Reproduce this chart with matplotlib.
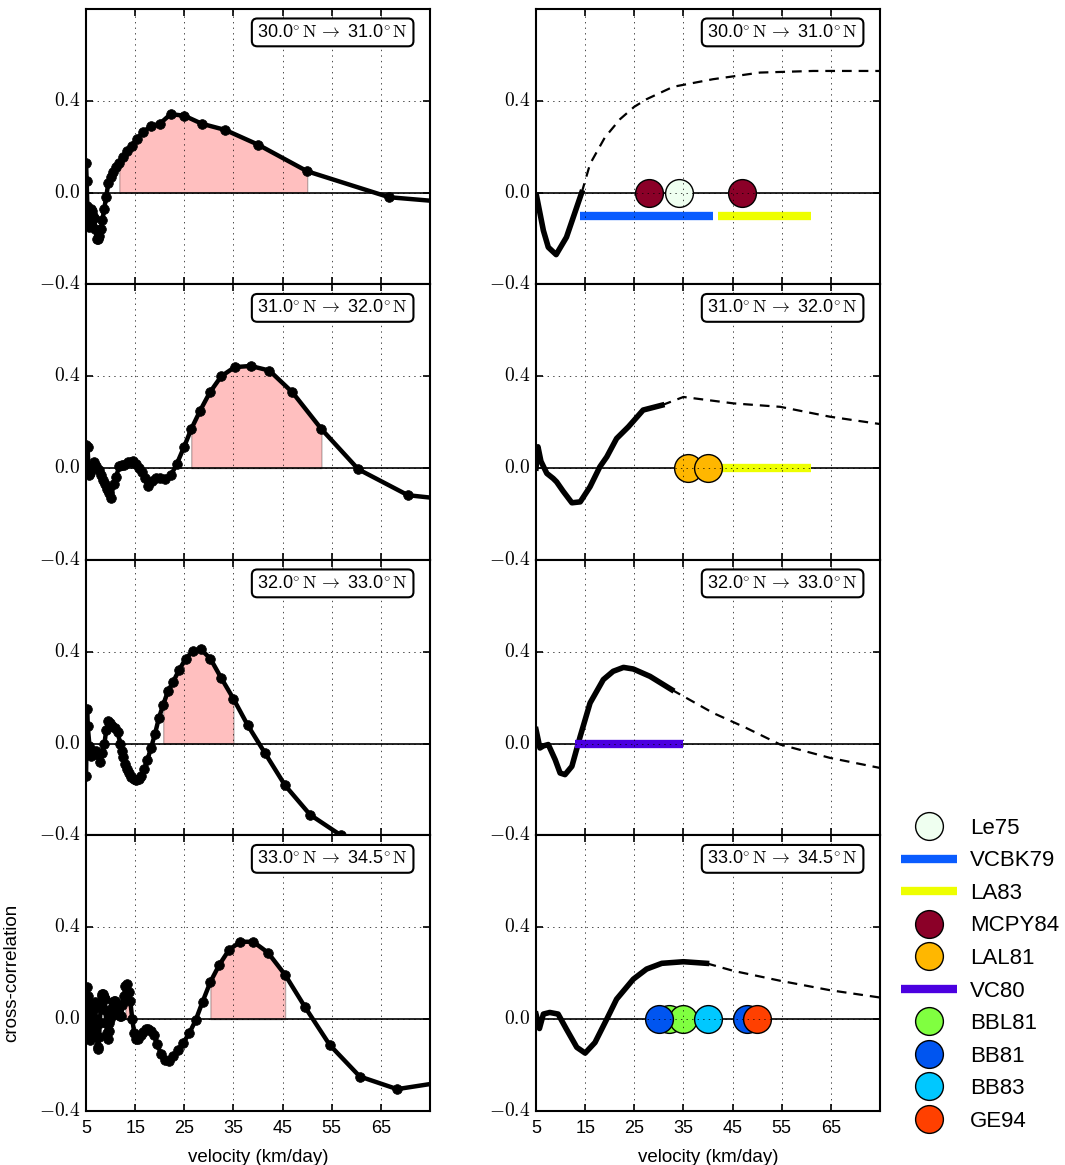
import matplotlib
matplotlib.use('Agg')
import matplotlib.pyplot as plt
import numpy as np
from matplotlib.lines import Line2D

plt.style.use('classic')
plt.rcParams.update({
    'figure.facecolor': 'white',
    'savefig.facecolor': 'white',
    'font.family': 'sans-serif',
    'font.sans-serif': ['Liberation Sans', 'DejaVu Sans'],
    'mathtext.fontset': 'cm',
    'axes.linewidth': 1.5,
    'xtick.major.width': 1.2,
    'ytick.major.width': 1.2,
    'xtick.major.size': 5,
    'ytick.major.size': 5,
    'xtick.major.pad': 6.5,
    'xtick.labelsize': 13,
    'ytick.labelsize': 14,
    'axes.labelsize': 13.5,
})

# ---- left column: cross-correlation vs velocity (dots = lags)
vel_1 = [5.0, 5.13, 5.26, 5.41, 5.56, 5.71, 5.88, 6.06, 6.25, 6.45, 6.67, 6.90, 7.14, 7.41,
         7.69, 8.0, 8.33, 8.70, 9.09, 9.52, 10.0, 10.53, 11.11, 11.76, 12.5, 13.33, 14.29,
         15.38, 16.67, 18.18, 20.0, 22.22, 25.0, 28.57, 33.33, 40.0, 50.0, 66.67, 100.0]
corr_1 = [0.13, 0.05, -0.06, -0.13, -0.15, -0.12, -0.08, -0.07, -0.08, -0.10, -0.11, -0.16,
          -0.20, -0.20, -0.19, -0.16, -0.12, -0.07, -0.02, 0.04, 0.07, 0.09, 0.11, 0.13,
          0.155, 0.18, 0.205, 0.235, 0.265, 0.29, 0.30, 0.342, 0.335, 0.30, 0.273, 0.209,
          0.093, -0.02, -0.08]

vel_2 = [5.0, 5.3, 5.6, 5.9, 6.2, 6.6, 7.05, 7.55, 8.0, 8.5, 8.8, 9.2, 9.6, 10.1, 10.6, 11.1,
         11.75, 12.4, 12.8, 13.6, 14.1, 14.6, 15.1, 15.7, 16.3, 16.9, 17.6, 18.4, 19.2, 20.1,
         21.15, 22.3, 23.5, 24.9, 26.4, 28.2, 30.2, 32.5, 35.25, 38.5, 42.3, 47.0, 52.9, 60.4,
         70.5, 84.6]
corr_2 = [0.10, 0.09, -0.03, -0.02, 0.0, 0.025, 0.01, -0.01, -0.03, -0.05, -0.07, -0.09,
          -0.11, -0.13, -0.07, -0.04, 0.01, 0.015, 0.015, 0.025, 0.027, 0.03, 0.02, 0.0,
          -0.016, -0.045, -0.08, -0.055, -0.045, -0.045, -0.048, -0.03, 0.02, 0.09, 0.17,
          0.25, 0.33, 0.40, 0.44, 0.445, 0.425, 0.33, 0.17, -0.005, -0.118, -0.15]

vel_3 = [5.0, 5.2, 5.35, 5.7, 6.07, 6.5, 7.0, 7.45, 7.85, 8.3, 8.75, 9.1, 9.5, 9.9, 10.3,
         10.8, 11.4, 12.0, 12.3, 12.6, 13.0, 13.4, 13.8, 14.2, 14.7, 15.2, 15.7, 16.25, 16.85,
         17.5, 18.2, 19.0, 19.8, 20.7, 21.7, 22.75, 23.9, 25.3, 26.8, 28.4, 30.3, 32.5, 35.0,
         37.9, 41.4, 45.5, 50.6, 56.9, 65.0, 75.8]
corr_3 = [-0.14, 0.15, 0.075, -0.01, -0.055, -0.03, -0.03, -0.05, -0.08, -0.04, 0.0, 0.06,
          0.10, 0.09, 0.075, 0.07, 0.05, 0.0, -0.03, -0.06, -0.09, -0.11, -0.13, -0.145,
          -0.155, -0.16, -0.155, -0.14, -0.11, -0.07, -0.02, 0.04, 0.11, 0.17, 0.23, 0.27,
          0.32, 0.37, 0.405, 0.41, 0.37, 0.286, 0.195, 0.08, -0.041, -0.182, -0.31, -0.40,
          -0.47, -0.52]

vel_4 = [5.0, 5.15, 5.3, 5.45, 5.57, 5.7, 5.8, 5.95, 6.07, 6.2, 6.35, 6.5, 6.65, 6.8, 6.9,
         7.05, 7.2, 7.35, 7.5, 7.65, 7.8, 8.0, 8.15, 8.3, 8.5, 8.65, 8.8, 8.95, 9.1, 9.25,
         9.4, 9.6, 9.75, 9.9, 10.1, 10.3, 10.5, 10.7, 10.9, 11.15, 11.4, 11.6, 11.9, 12.1,
         12.4, 12.7, 13.0, 13.3, 13.65, 14.0, 14.4, 14.8, 15.2, 15.6, 16.1, 16.5, 17.1, 17.6,
         18.2, 18.8, 19.5, 20.2, 21.0, 21.8, 22.75, 23.7, 24.8, 26.0, 27.3, 28.7, 30.3, 32.1,
         34.1, 36.4, 39.0, 42.0, 45.5, 49.6, 54.6, 60.7, 68.3, 78.0]
corr_4 = [-0.07, 0.14, 0.10, 0.03, 0.07, -0.02, -0.09, -0.05, 0.02, 0.06, -0.015, -0.06,
          0.0, 0.073, 0.05, -0.02, -0.073, -0.12, -0.131, -0.08, -0.015, 0.06, 0.10, 0.11,
          0.109, 0.095, 0.087, 0.04, -0.015, -0.06, -0.087, -0.05, -0.015, 0.0, 0.015, 0.05,
          0.075, 0.08, 0.08, 0.07, 0.05, 0.03, 0.015, 0.015, 0.06, 0.101, 0.145, 0.152, 0.12,
          0.08, 0.0, -0.06, -0.085, -0.087, -0.07, -0.055, -0.045, -0.044, -0.05, -0.07,
          -0.11, -0.15, -0.178, -0.182, -0.162, -0.134, -0.102, -0.062, -0.005, 0.075, 0.162,
          0.236, 0.302, 0.337, 0.337, 0.29, 0.193, 0.051, -0.113, -0.25, -0.305, -0.273]

# shaded velocity windows
fill_1 = [(11.76, 50.0)]
fill_2 = [(26.4, 52.9)]
fill_3 = [(20.7, 35.0)]
fill_4 = [(13.0, 14.0), (30.3, 45.5)]

# ---- right column: model curves (solid part + dashed extrapolation)
rv_1 = [5.1, 6.5, 7.5, 9.1, 11.2, 14.3]
rc_1 = [-0.013, -0.165, -0.238, -0.27, -0.194, 0.0]
dv_1 = [14.3, 16.0, 19.0, 22.1, 25.0, 27.5, 32.9, 41.0, 50.6, 61.4, 75.0]
dc_1 = [0.0, 0.125, 0.24, 0.32, 0.374, 0.407, 0.461, 0.494, 0.523, 0.53, 0.53]

rv_2 = [5.0, 5.4, 6.0, 7.2, 8.5, 9.2, 10.5, 12.3, 14.0, 16.0, 18.0, 19.4, 21.4, 23.8, 26.8, 30.6]
rc_2 = [0.0, 0.093, 0.03, -0.023, -0.045, -0.06, -0.10, -0.151, -0.147, -0.081, 0.006,
        0.049, 0.129, 0.18, 0.253, 0.274]
dv_2 = [30.6, 35.0, 45.2, 54.7, 64.8, 75.0]
dc_2 = [0.274, 0.31, 0.282, 0.267, 0.224, 0.192]

rv_3 = [5.0, 5.8, 6.5, 7.5, 8.9, 9.9, 10.9, 12.3, 14.0, 16.0, 18.7, 20.7, 22.8, 24.8, 28.2, 32.6]
rc_3 = [0.061, -0.019, -0.01, -0.004, -0.07, -0.128, -0.135, -0.099, 0.032, 0.177, 0.279,
        0.315, 0.332, 0.325, 0.293, 0.235]
dv_3 = [32.6, 41.0, 47.8, 54.7, 64.8, 75.0]
dc_3 = [0.235, 0.134, 0.068, -0.004, -0.062, -0.106]

rv_4 = [5.0, 5.7, 6.5, 7.8, 9.5, 11.2, 13.3, 15.0, 17.0, 19.4, 21.4, 24.8, 27.5, 30.6, 35.0, 39.7]
rc_4 = [0.022, -0.041, 0.022, 0.029, 0.022, -0.044, -0.123, -0.148, -0.102, 0.0, 0.087,
        0.174, 0.218, 0.243, 0.25, 0.243]
dv_4 = [39.7, 45.2, 54.7, 64.8, 75.0]
dc_4 = [0.243, 0.21, 0.167, 0.126, 0.094]

panel_labels = ['30.0', '31.0', '32.0', '33.0', '34.5']

# ---- literature estimates
colors = {
    'Le75': '#effff0', 'VCBK79': '#0a5cff', 'LA83': '#eeff00', 'MCPY84': '#8b0028',
    'LAL81': '#ffb700', 'VC80': '#4b00e0', 'BBL81': '#80ff40', 'BB81': '#0055f0',
    'BB83': '#00c8ff', 'GE94': '#ff4000',
}
kinds = {'Le75': 'dot', 'VCBK79': 'bar', 'LA83': 'bar', 'MCPY84': 'dot', 'LAL81': 'dot',
         'VC80': 'bar', 'BBL81': 'dot', 'BB81': 'dot', 'BB83': 'dot', 'GE94': 'dot'}
# per panel: (name, value or (lo, hi), y)
refs = [
    [('Le75', 34.1, 0.0), ('VCBK79', (14.0, 41.0), -0.1), ('LA83', (42.0, 61.0), -0.1),
     ('MCPY84', 28.0, 0.0), ('MCPY84', 47.0, 0.0)],
    [('LA83', (42.9, 61.0), 0.0), ('LAL81', 36.0, 0.0), ('LAL81', 40.0, 0.0)],
    [('VC80', (13.0, 35.0), 0.0)],
    [('BBL81', 32.0, 0.0), ('BBL81', 35.0, 0.0), ('BB81', 30.0, 0.0), ('BB81', 48.0, 0.0),
     ('BB83', 40.0, 0.0), ('GE94', 50.0, 0.0)],
]

left_data = [(vel_1, corr_1, fill_1), (vel_2, corr_2, fill_2),
             (vel_3, corr_3, fill_3), (vel_4, corr_4, fill_4)]
right_data = [(rv_1, rc_1, dv_1, dc_1), (rv_2, rc_2, dv_2, dc_2),
              (rv_3, rc_3, dv_3, dc_3), (rv_4, rc_4, dv_4, dc_4)]

fig, axes = plt.subplots(4, 2, sharex=True, figsize=(10.65, 11.65), dpi=100)
fig.subplots_adjust(left=0.0808, right=0.8263, top=0.9923, bottom=0.0464,
                    hspace=0, wspace=0.308)

for i in range(4):
    label = (panel_labels[i] + r'$\!^\circ\mathrm{N}\,\rightarrow$ ' +
             panel_labels[i + 1] + r'$\!^\circ\mathrm{N}$')

    # left
    ax = axes[i, 0]
    v, c, fills = left_data[i]
    v = np.array(v)
    c = np.array(c)
    for lo, hi in fills:
        m = (v >= lo - 1e-6) & (v <= hi + 1e-6)
        ax.fill_between(v[m], 0, c[m], facecolor='red', edgecolor='black',
                        alpha=0.25, lw=1)
    ax.axhline(0, color='k', lw=1.2)
    ax.plot(v, c, 'k-', lw=3.2, marker='o', ms=7, mec='k')

    # right
    ax = axes[i, 1]
    sv, sc, dv, dc = right_data[i]
    ax.axhline(0, color='k', lw=1.2)
    ax.plot(sv, sc, 'k-', lw=4)
    ax.plot(dv, dc, 'k-', lw=1.6, dashes=(7, 5))
    for name, val, y in refs[i]:
        if kinds[name] == 'bar':
            ax.plot(val, [y, y], color=colors[name], lw=6, solid_capstyle='butt')
        else:
            ax.plot([val], [y], 'o', ms=20, mfc=colors[name], mec='k', mew=1)

    for ax in axes[i]:
        ax.set_xlim(5, 75)
        ax.set_ylim(-0.4, 0.8)
        ax.set_xticks([5, 15, 25, 35, 45, 55, 65])
        ax.set_yticks([-0.4, 0.0, 0.4])
        ax.set_yticklabels([r'$-0.4$', r'$0.0$', r'$0.4$'])
        ax.grid(True)
        ax.text(0.936, 0.915, label, transform=ax.transAxes, ha='right', va='center',
                fontsize=13,
                bbox=dict(boxstyle='round,pad=0.3', fc='white', ec='k', lw=1.5))

for ax in axes[3]:
    ax.set_xlabel('velocity (km/day)', labelpad=9)
axes[3, 0].set_ylabel('cross-correlation')
axes[3, 0].yaxis.set_label_coords(-0.192, 0.5)

handles = []
for name in colors:
    if kinds[name] == 'bar':
        handles.append(Line2D([], [], color=colors[name], lw=6, solid_capstyle='butt'))
    else:
        handles.append(Line2D([], [], ls='none', marker='o', ms=20,
                              mfc=colors[name], mec='k', mew=1))
fig.legend(handles, list(colors), loc='center left', bbox_to_anchor=(0.8268, 0.1633),
           frameon=False, numpoints=1, fontsize=16, handlelength=2.52,
           handletextpad=0.6, labelspacing=0.52)

fig.savefig('out.png', dpi=100)
